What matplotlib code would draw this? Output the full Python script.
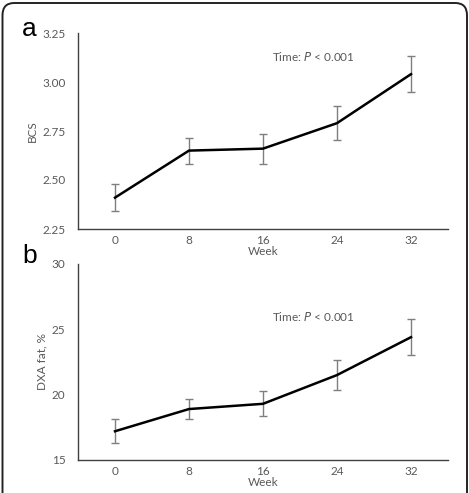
import matplotlib.pyplot as plt
from matplotlib.patches import FancyBboxPatch

# data
weeks = ['0', '8', '16', '24', '32']
bcs_mean = [2.41, 2.65, 2.66, 2.79, 3.04]
bcs_err = [0.07, 0.066, 0.076, 0.088, 0.093]
fat_mean = [17.2, 18.9, 19.3, 21.5, 24.4]
fat_err = [0.92, 0.77, 0.95, 1.15, 1.4]

plt.rcParams['font.family'] = ['Lato', 'DejaVu Sans']

W, H = 469, 493
fig = plt.figure(figsize=(W / 100, H / 100), dpi=100)

# rounded frame around the whole figure (bottom runs off the image)
frame = FancyBboxPatch((2.5 / W, -20 / H), (467 - 2.5) / W, (H - 3 + 20) / H,
                       boxstyle='round,pad=0,rounding_size=0.025',
                       transform=fig.transFigure, fill=False,
                       edgecolor='#222222', linewidth=1.4)
fig.patches.append(frame)

grey = '#595959'


def panel(rect, means, errs, ylim, yticks, yfmt, ylabel, text_y, letter, letter_y):
    ax = fig.add_axes(rect)
    x = list(range(len(weeks)))
    ax.errorbar(x, means, yerr=errs, fmt='none', ecolor='#7f7f7f',
                elinewidth=1.0, capsize=3, capthick=1.0, zorder=2)
    ax.plot(x, means, color='black', linewidth=1.8, zorder=3)
    ax.set_xlim(-0.5, 4.5)
    ax.set_ylim(*ylim)
    ax.set_xticks(x)
    ax.set_xticklabels(weeks)
    ax.set_yticks(yticks)
    ax.set_yticklabels([yfmt.format(v) for v in yticks])
    for s in ['top', 'right']:
        ax.spines[s].set_visible(False)
    for s in ['left', 'bottom']:
        ax.spines[s].set_color('#404040')
        ax.spines[s].set_linewidth(1.0)
    ax.tick_params(length=0, labelsize=8.5, colors=grey, pad=9)
    ax.tick_params(axis='x', pad=4)
    ax.set_xlabel('Week', fontsize=8.5, color=grey, labelpad=0.5)
    ax.set_ylabel(ylabel, fontsize=8.5, color=grey, labelpad=3)
    ax.text(2.12, text_y, 'Time: $P$ < 0.001', fontsize=8.5, color=grey,
            va='center', ha='left')
    fig.text(22 / W, letter_y, letter, fontsize=19, color='black',
             ha='left', va='center', family=['Liberation Sans', 'DejaVu Sans'])
    return ax


panel([78 / W, 1 - 229 / H, 370 / W, 196 / H], bcs_mean, bcs_err,
      (2.25, 3.25), [2.25, 2.5, 2.75, 3.0, 3.25], '{:.2f}', 'BCS', 3.128,
      'a', 1 - 29 / H)
panel([78 / W, 1 - 460 / H, 370 / W, 196 / H], fat_mean, fat_err,
      (15, 30), [15, 20, 25, 30], '{:d}', 'DXA fat, %', 26.0,
      'b', 1 - 256 / H)

fig.savefig('out.png', dpi=100)
